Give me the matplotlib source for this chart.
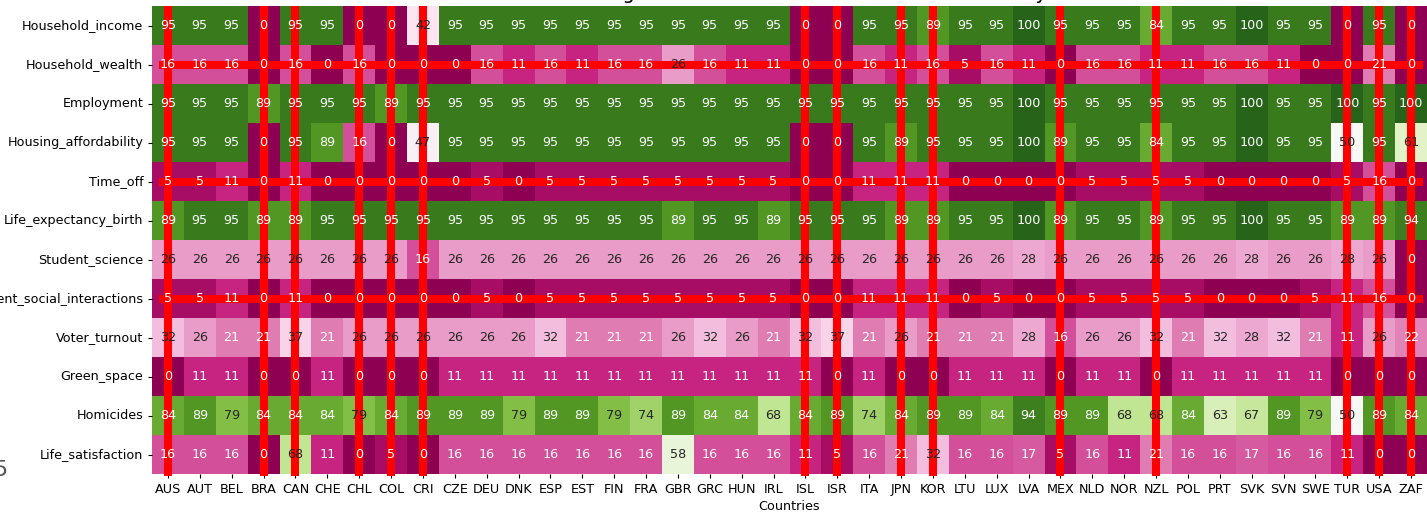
import matplotlib
matplotlib.use("Agg")
import matplotlib.pyplot as plt
import numpy as np
import pandas as pd
import seaborn as sns

countries = ["AUS", "AUT", "BEL", "BRA", "CAN", "CHE", "CHL", "COL", "CRI", "CZE",
             "DEU", "DNK", "ESP", "EST", "FIN", "FRA", "GBR", "GRC", "HUN", "IRL",
             "ISL", "ISR", "ITA", "JPN", "KOR", "LTU", "LUX", "LVA", "MEX", "NLD",
             "NOR", "NZL", "POL", "PRT", "SVK", "SVN", "SWE", "TUR", "USA", "ZAF"]

indicators = ["Household_income", "Household_wealth", "Employment",
              "Housing_affordability", "Time_off", "Life_expectancy_birth",
              "Student_science", "Student_social_interactions", "Voter_turnout",
              "Green_space", "Homicides", "Life_satisfaction"]

household_income = [95, 95, 95, 0, 95, 95, 0, 0, 42, 95,
                    95, 95, 95, 95, 95, 95, 95, 95, 95, 95,
                    0, 0, 95, 95, 89, 95, 95, 100, 95, 95,
                    95, 84, 95, 95, 100, 95, 95, 0, 95, 0]
household_wealth = [16, 16, 16, 0, 16, 0, 16, 0, 0, 0,
                    16, 11, 16, 11, 16, 16, 26, 16, 11, 11,
                    0, 0, 16, 11, 16, 5, 16, 11, 0, 16,
                    16, 11, 11, 16, 16, 11, 0, 0, 21, 0]
employment = [95, 95, 95, 89, 95, 95, 95, 89, 95, 95,
              95, 95, 95, 95, 95, 95, 95, 95, 95, 95,
              95, 95, 95, 95, 95, 95, 95, 100, 95, 95,
              95, 95, 95, 95, 100, 95, 95, 100, 95, 100]
housing_affordability = [95, 95, 95, 0, 95, 89, 16, 0, 47, 95,
                         95, 95, 95, 95, 95, 95, 95, 95, 95, 95,
                         0, 0, 95, 89, 95, 95, 95, 100, 89, 95,
                         95, 84, 95, 95, 100, 95, 95, 50, 95, 61]
time_off = [5, 5, 11, 0, 11, 0, 0, 0, 0, 0,
            5, 0, 5, 5, 5, 5, 5, 5, 5, 5,
            0, 0, 11, 11, 11, 0, 0, 0, 0, 5,
            5, 5, 5, 0, 0, 0, 0, 5, 16, 0]
life_expectancy_birth = [89, 95, 95, 89, 89, 95, 95, 95, 95, 95,
                         95, 95, 95, 95, 95, 95, 89, 95, 95, 89,
                         95, 95, 95, 89, 89, 95, 95, 100, 89, 95,
                         95, 89, 95, 95, 100, 95, 95, 89, 89, 94]
student_science = [26, 26, 26, 26, 26, 26, 26, 26, 16, 26,
                   26, 26, 26, 26, 26, 26, 26, 26, 26, 26,
                   26, 26, 26, 26, 26, 26, 26, 28, 26, 26,
                   26, 26, 26, 26, 28, 26, 26, 28, 26, 0]
student_social_interactions = [5, 5, 11, 0, 11, 0, 0, 0, 0, 0,
                               5, 0, 5, 5, 5, 5, 5, 5, 5, 5,
                               0, 0, 11, 11, 11, 0, 5, 0, 0, 5,
                               5, 5, 5, 0, 0, 0, 5, 11, 16, 0]
voter_turnout = [32, 26, 21, 21, 37, 21, 26, 26, 26, 26,
                 26, 26, 32, 21, 21, 21, 26, 32, 26, 21,
                 32, 37, 21, 26, 21, 21, 21, 28, 16, 26,
                 26, 32, 21, 32, 28, 32, 21, 11, 26, 22]
green_space = [0, 11, 11, 0, 0, 11, 0, 0, 0, 11,
               11, 11, 11, 11, 11, 11, 11, 11, 11, 11,
               11, 0, 11, 0, 0, 11, 11, 11, 0, 11,
               11, 0, 11, 11, 11, 11, 11, 0, 0, 0]
homicides = [84, 89, 79, 84, 84, 84, 79, 84, 89, 89,
             89, 79, 89, 89, 79, 74, 89, 84, 84, 68,
             84, 89, 74, 84, 89, 89, 84, 94, 89, 89,
             68, 68, 84, 63, 67, 89, 79, 50, 89, 84]
life_satisfaction = [16, 16, 16, 0, 68, 11, 0, 5, 0, 16,
                     16, 16, 16, 16, 16, 16, 58, 16, 16, 16,
                     11, 5, 16, 21, 32, 16, 16, 17, 5, 16,
                     11, 21, 16, 16, 17, 16, 16, 11, 0, 0]

# countries and indicators highlighted with red guide lines
marked_countries = ["AUS", "BRA", "CAN", "CHL", "COL", "CRI", "ISL", "ISR",
                    "JPN", "KOR", "MEX", "NZL", "TUR", "USA", "ZAF"]
marked_indicators = ["Household_wealth", "Time_off", "Student_social_interactions"]

scores = pd.DataFrame(
    [household_income, household_wealth, employment, housing_affordability,
     time_off, life_expectancy_birth, student_science,
     student_social_interactions, voter_turnout, green_space, homicides,
     life_satisfaction],
    index=indicators, columns=countries)

FS = 9.2

fig = plt.figure(figsize=(14.27, 5.12), dpi=100)
ax = fig.add_axes([152 / 1427, 1 - 474 / 512, 1 - 152 / 1427, 468 / 512])

sns.heatmap(scores, ax=ax, cmap="PiYG", vmin=0, vmax=100, annot=True,
            fmt="d", cbar=False, annot_kws={"fontsize": FS})

ax.set_xlabel("Countries", fontsize=FS, labelpad=3)
ax.set_ylabel("")
ax.tick_params(axis="both", labelsize=FS, length=3.2, pad=3)
plt.setp(ax.get_xticklabels(), rotation=0)
plt.setp(ax.get_yticklabels(), rotation=0)

n_rows = len(indicators)
for c in marked_countries:
    x = countries.index(c) + 0.5
    ax.plot([x, x], [0, n_rows + 0.05], color="#ff0000", lw=5.8,
            solid_capstyle="butt", clip_on=False)
for r in marked_indicators:
    y = indicators.index(r) + 0.5
    ax.plot([0.22, len(countries) - 0.13], [y, y], color="#ff0000", lw=5.8,
            solid_capstyle="butt", clip_on=False)

ax.set_title("Well-being Indicator Scores of Each Member Country",
             fontsize=14, pad=5)

fig.text(0.0, 1 - 470 / 512, "5", ha="center", va="center",
         fontsize=16, color="#555555")

fig.savefig("out.png", dpi=100)
